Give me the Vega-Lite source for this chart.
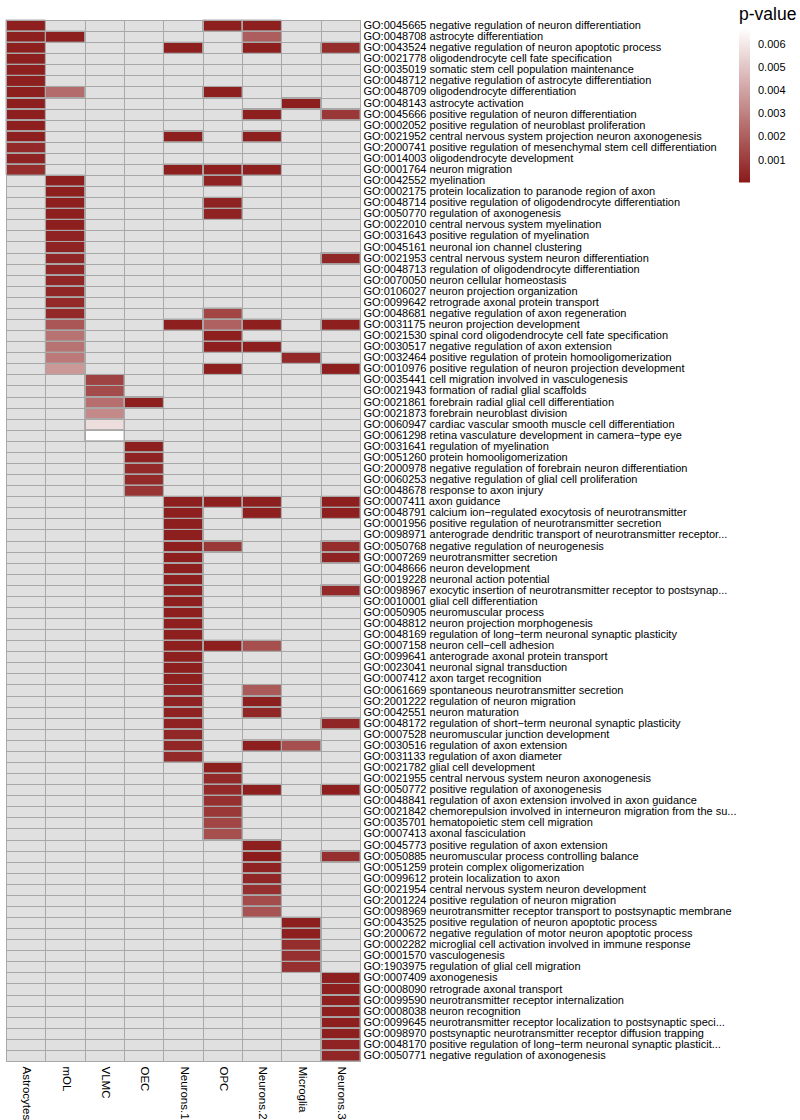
{
  "$schema": "https://vega.github.io/schema/vega-lite/v6.json",
  "width": 354,
  "height": 1041,
  "padding": {"left": 0, "top": 6, "right": 0, "bottom": 0},
  "config": {
    "font": "Liberation Sans",
    "view": {"stroke": "#a8a8a8", "fill": "#e0e0e0", "strokeWidth": 1}
  },
  "datasets": {
    "cells": [
      {"t": "GO:0045665 negative regulation of neuron differentiation", "c": "Astrocytes", "p": 0.0002},
      {"t": "GO:0045665 negative regulation of neuron differentiation", "c": "OPC", "p": 0.0002},
      {"t": "GO:0045665 negative regulation of neuron differentiation", "c": "Neurons.2", "p": 0.0002},
      {"t": "GO:0048708 astrocyte differentiation", "c": "Astrocytes", "p": 0.0002},
      {"t": "GO:0048708 astrocyte differentiation", "c": "mOL", "p": 0.0002},
      {"t": "GO:0048708 astrocyte differentiation", "c": "Neurons.2", "p": 0.002},
      {"t": "GO:0043524 negative regulation of neuron apoptotic process", "c": "Astrocytes", "p": 0.0002},
      {"t": "GO:0043524 negative regulation of neuron apoptotic process", "c": "Neurons.1", "p": 0.0002},
      {"t": "GO:0043524 negative regulation of neuron apoptotic process", "c": "Neurons.2", "p": 0.0002},
      {"t": "GO:0043524 negative regulation of neuron apoptotic process", "c": "Neurons.3", "p": 0.0006},
      {"t": "GO:0021778 oligodendrocyte cell fate specification", "c": "Astrocytes", "p": 0.0002},
      {"t": "GO:0035019 somatic stem cell population maintenance", "c": "Astrocytes", "p": 0.0002},
      {"t": "GO:0048712 negative regulation of astrocyte differentiation", "c": "Astrocytes", "p": 0.0002},
      {"t": "GO:0048709 oligodendrocyte differentiation", "c": "Astrocytes", "p": 0.0002},
      {"t": "GO:0048709 oligodendrocyte differentiation", "c": "mOL", "p": 0.0024},
      {"t": "GO:0048709 oligodendrocyte differentiation", "c": "OPC", "p": 0.0002},
      {"t": "GO:0048143 astrocyte activation", "c": "Astrocytes", "p": 0.0002},
      {"t": "GO:0048143 astrocyte activation", "c": "Microglia", "p": 0.0002},
      {"t": "GO:0045666 positive regulation of neuron differentiation", "c": "Astrocytes", "p": 0.0002},
      {"t": "GO:0045666 positive regulation of neuron differentiation", "c": "Neurons.2", "p": 0.0002},
      {"t": "GO:0045666 positive regulation of neuron differentiation", "c": "Neurons.3", "p": 0.0009},
      {"t": "GO:0002052 positive regulation of neuroblast proliferation", "c": "Astrocytes", "p": 0.0002},
      {"t": "GO:0021952 central nervous system projection neuron axonogenesis", "c": "Astrocytes", "p": 0.0002},
      {"t": "GO:0021952 central nervous system projection neuron axonogenesis", "c": "Neurons.1", "p": 0.0002},
      {"t": "GO:0021952 central nervous system projection neuron axonogenesis", "c": "Neurons.2", "p": 0.0002},
      {"t": "GO:2000741 positive regulation of mesenchymal stem cell differentiation", "c": "Astrocytes", "p": 0.0005},
      {"t": "GO:0014003 oligodendrocyte development", "c": "Astrocytes", "p": 0.0003},
      {"t": "GO:0001764 neuron migration", "c": "Astrocytes", "p": 0.0006},
      {"t": "GO:0001764 neuron migration", "c": "Neurons.1", "p": 0.0002},
      {"t": "GO:0001764 neuron migration", "c": "OPC", "p": 0.0002},
      {"t": "GO:0001764 neuron migration", "c": "Neurons.2", "p": 0.0002},
      {"t": "GO:0042552 myelination", "c": "mOL", "p": 0.0002},
      {"t": "GO:0042552 myelination", "c": "OPC", "p": 0.0003},
      {"t": "GO:0002175 protein localization to paranode region of axon", "c": "mOL", "p": 0.0002},
      {"t": "GO:0048714 positive regulation of oligodendrocyte differentiation", "c": "mOL", "p": 0.0002},
      {"t": "GO:0048714 positive regulation of oligodendrocyte differentiation", "c": "OPC", "p": 0.0003},
      {"t": "GO:0050770 regulation of axonogenesis", "c": "mOL", "p": 0.0002},
      {"t": "GO:0050770 regulation of axonogenesis", "c": "OPC", "p": 0.0003},
      {"t": "GO:0022010 central nervous system myelination", "c": "mOL", "p": 0.0002},
      {"t": "GO:0031643 positive regulation of myelination", "c": "mOL", "p": 0.0003},
      {"t": "GO:0045161 neuronal ion channel clustering", "c": "mOL", "p": 0.0003},
      {"t": "GO:0021953 central nervous system neuron differentiation", "c": "mOL", "p": 0.0004},
      {"t": "GO:0021953 central nervous system neuron differentiation", "c": "Neurons.3", "p": 0.0004},
      {"t": "GO:0048713 regulation of oligodendrocyte differentiation", "c": "mOL", "p": 0.0004},
      {"t": "GO:0070050 neuron cellular homeostasis", "c": "mOL", "p": 0.0004},
      {"t": "GO:0106027 neuron projection organization", "c": "mOL", "p": 0.0004},
      {"t": "GO:0099642 retrograde axonal protein transport", "c": "mOL", "p": 0.0005},
      {"t": "GO:0048681 negative regulation of axon regeneration", "c": "mOL", "p": 0.0005},
      {"t": "GO:0048681 negative regulation of axon regeneration", "c": "OPC", "p": 0.0013},
      {"t": "GO:0031175 neuron projection development", "c": "mOL", "p": 0.0018},
      {"t": "GO:0031175 neuron projection development", "c": "Neurons.1", "p": 0.0002},
      {"t": "GO:0031175 neuron projection development", "c": "OPC", "p": 0.0021},
      {"t": "GO:0031175 neuron projection development", "c": "Neurons.2", "p": 0.0002},
      {"t": "GO:0031175 neuron projection development", "c": "Neurons.3", "p": 0.0002},
      {"t": "GO:0021530 spinal cord oligodendrocyte cell fate specification", "c": "mOL", "p": 0.0026},
      {"t": "GO:0021530 spinal cord oligodendrocyte cell fate specification", "c": "OPC", "p": 0.0002},
      {"t": "GO:0030517 negative regulation of axon extension", "c": "mOL", "p": 0.0026},
      {"t": "GO:0030517 negative regulation of axon extension", "c": "OPC", "p": 0.0002},
      {"t": "GO:0030517 negative regulation of axon extension", "c": "Neurons.2", "p": 0.0002},
      {"t": "GO:0032464 positive regulation of protein homooligomerization", "c": "mOL", "p": 0.0028},
      {"t": "GO:0032464 positive regulation of protein homooligomerization", "c": "Microglia", "p": 0.0005},
      {"t": "GO:0010976 positive regulation of neuron projection development", "c": "mOL", "p": 0.0037},
      {"t": "GO:0010976 positive regulation of neuron projection development", "c": "OPC", "p": 0.0002},
      {"t": "GO:0010976 positive regulation of neuron projection development", "c": "Neurons.3", "p": 0.0002},
      {"t": "GO:0035441 cell migration involved in vasculogenesis", "c": "VLMC", "p": 0.0012},
      {"t": "GO:0021943 formation of radial glial scaffolds", "c": "VLMC", "p": 0.0015},
      {"t": "GO:0021861 forebrain radial glial cell differentiation", "c": "VLMC", "p": 0.0025},
      {"t": "GO:0021861 forebrain radial glial cell differentiation", "c": "OEC", "p": 0.0002},
      {"t": "GO:0021873 forebrain neuroblast division", "c": "VLMC", "p": 0.0033},
      {"t": "GO:0060947 cardiac vascular smooth muscle cell differentiation", "c": "VLMC", "p": 0.0057},
      {"t": "GO:0061298 retina vasculature development in camera−type eye", "c": "VLMC", "p": 0.0067},
      {"t": "GO:0031641 regulation of myelination", "c": "OEC", "p": 0.0002},
      {"t": "GO:0051260 protein homooligomerization", "c": "OEC", "p": 0.0003},
      {"t": "GO:2000978 negative regulation of forebrain neuron differentiation", "c": "OEC", "p": 0.0005},
      {"t": "GO:0060253 negative regulation of glial cell proliferation", "c": "OEC", "p": 0.0005},
      {"t": "GO:0048678 response to axon injury", "c": "OEC", "p": 0.0008},
      {"t": "GO:0007411 axon guidance", "c": "Neurons.1", "p": 0.0002},
      {"t": "GO:0007411 axon guidance", "c": "OPC", "p": 0.0002},
      {"t": "GO:0007411 axon guidance", "c": "Neurons.2", "p": 0.0002},
      {"t": "GO:0007411 axon guidance", "c": "Neurons.3", "p": 0.0002},
      {"t": "GO:0048791 calcium ion−regulated exocytosis of neurotransmitter", "c": "Neurons.1", "p": 0.0002},
      {"t": "GO:0048791 calcium ion−regulated exocytosis of neurotransmitter", "c": "Neurons.2", "p": 0.0002},
      {"t": "GO:0048791 calcium ion−regulated exocytosis of neurotransmitter", "c": "Neurons.3", "p": 0.0002},
      {"t": "GO:0001956 positive regulation of neurotransmitter secretion", "c": "Neurons.1", "p": 0.0002},
      {"t": "GO:0098971 anterograde dendritic transport of neurotransmitter receptor...", "c": "Neurons.1", "p": 0.0002},
      {"t": "GO:0050768 negative regulation of neurogenesis", "c": "Neurons.1", "p": 0.0002},
      {"t": "GO:0050768 negative regulation of neurogenesis", "c": "OPC", "p": 0.0009},
      {"t": "GO:0050768 negative regulation of neurogenesis", "c": "Neurons.3", "p": 0.0006},
      {"t": "GO:0007269 neurotransmitter secretion", "c": "Neurons.1", "p": 0.0002},
      {"t": "GO:0007269 neurotransmitter secretion", "c": "Neurons.3", "p": 0.0003},
      {"t": "GO:0048666 neuron development", "c": "Neurons.1", "p": 0.0002},
      {"t": "GO:0019228 neuronal action potential", "c": "Neurons.1", "p": 0.0002},
      {"t": "GO:0098967 exocytic insertion of neurotransmitter receptor to postsynap...", "c": "Neurons.1", "p": 0.0002},
      {"t": "GO:0098967 exocytic insertion of neurotransmitter receptor to postsynap...", "c": "Neurons.3", "p": 0.0005},
      {"t": "GO:0010001 glial cell differentiation", "c": "Neurons.1", "p": 0.0002},
      {"t": "GO:0050905 neuromuscular process", "c": "Neurons.1", "p": 0.0002},
      {"t": "GO:0048812 neuron projection morphogenesis", "c": "Neurons.1", "p": 0.0002},
      {"t": "GO:0048169 regulation of long−term neuronal synaptic plasticity", "c": "Neurons.1", "p": 0.0002},
      {"t": "GO:0007158 neuron cell−cell adhesion", "c": "Neurons.1", "p": 0.0002},
      {"t": "GO:0007158 neuron cell−cell adhesion", "c": "OPC", "p": 0.0002},
      {"t": "GO:0007158 neuron cell−cell adhesion", "c": "Neurons.2", "p": 0.0016},
      {"t": "GO:0099641 anterograde axonal protein transport", "c": "Neurons.1", "p": 0.0002},
      {"t": "GO:0023041 neuronal signal transduction", "c": "Neurons.1", "p": 0.0002},
      {"t": "GO:0007412 axon target recognition", "c": "Neurons.1", "p": 0.0002},
      {"t": "GO:0061669 spontaneous neurotransmitter secretion", "c": "Neurons.1", "p": 0.0003},
      {"t": "GO:0061669 spontaneous neurotransmitter secretion", "c": "Neurons.2", "p": 0.0019},
      {"t": "GO:2001222 regulation of neuron migration", "c": "Neurons.1", "p": 0.0003},
      {"t": "GO:2001222 regulation of neuron migration", "c": "Neurons.2", "p": 0.0002},
      {"t": "GO:0042551 neuron maturation", "c": "Neurons.1", "p": 0.0003},
      {"t": "GO:0042551 neuron maturation", "c": "Neurons.2", "p": 0.0004},
      {"t": "GO:0048172 regulation of short−term neuronal synaptic plasticity", "c": "Neurons.1", "p": 0.0003},
      {"t": "GO:0048172 regulation of short−term neuronal synaptic plasticity", "c": "Neurons.3", "p": 0.0004},
      {"t": "GO:0007528 neuromuscular junction development", "c": "Neurons.1", "p": 0.0004},
      {"t": "GO:0030516 regulation of axon extension", "c": "Neurons.1", "p": 0.0004},
      {"t": "GO:0030516 regulation of axon extension", "c": "Neurons.2", "p": 0.0002},
      {"t": "GO:0030516 regulation of axon extension", "c": "Microglia", "p": 0.0016},
      {"t": "GO:0031133 regulation of axon diameter", "c": "Neurons.1", "p": 0.0005},
      {"t": "GO:0021782 glial cell development", "c": "OPC", "p": 0.0002},
      {"t": "GO:0021955 central nervous system neuron axonogenesis", "c": "OPC", "p": 0.0005},
      {"t": "GO:0050772 positive regulation of axonogenesis", "c": "OPC", "p": 0.0005},
      {"t": "GO:0050772 positive regulation of axonogenesis", "c": "Neurons.2", "p": 0.0002},
      {"t": "GO:0050772 positive regulation of axonogenesis", "c": "Neurons.3", "p": 0.0002},
      {"t": "GO:0048841 regulation of axon extension involved in axon guidance", "c": "OPC", "p": 0.0007},
      {"t": "GO:0021842 chemorepulsion involved in interneuron migration from the su...", "c": "OPC", "p": 0.0009},
      {"t": "GO:0035701 hematopoietic stem cell migration", "c": "OPC", "p": 0.0013},
      {"t": "GO:0007413 axonal fasciculation", "c": "OPC", "p": 0.0016},
      {"t": "GO:0045773 positive regulation of axon extension", "c": "Neurons.2", "p": 0.0002},
      {"t": "GO:0050885 neuromuscular process controlling balance", "c": "Neurons.2", "p": 0.0001},
      {"t": "GO:0050885 neuromuscular process controlling balance", "c": "Neurons.3", "p": 0.0007},
      {"t": "GO:0051259 protein complex oligomerization", "c": "Neurons.2", "p": 0.0003},
      {"t": "GO:0099612 protein localization to axon", "c": "Neurons.2", "p": 0.0004},
      {"t": "GO:0021954 central nervous system neuron development", "c": "Neurons.2", "p": 0.0007},
      {"t": "GO:2001224 positive regulation of neuron migration", "c": "Neurons.2", "p": 0.0015},
      {"t": "GO:0098969 neurotransmitter receptor transport to postsynaptic membrane", "c": "Neurons.2", "p": 0.0017},
      {"t": "GO:0043525 positive regulation of neuron apoptotic process", "c": "Microglia", "p": 0.0002},
      {"t": "GO:2000672 negative regulation of motor neuron apoptotic process", "c": "Microglia", "p": 0.0002},
      {"t": "GO:0002282 microglial cell activation involved in immune response", "c": "Microglia", "p": 0.0006},
      {"t": "GO:0001570 vasculogenesis", "c": "Microglia", "p": 0.0007},
      {"t": "GO:1903975 regulation of glial cell migration", "c": "Microglia", "p": 0.0007},
      {"t": "GO:0007409 axonogenesis", "c": "Neurons.3", "p": 0.0002},
      {"t": "GO:0008090 retrograde axonal transport", "c": "Neurons.3", "p": 0.0002},
      {"t": "GO:0099590 neurotransmitter receptor internalization", "c": "Neurons.3", "p": 0.0002},
      {"t": "GO:0008038 neuron recognition", "c": "Neurons.3", "p": 0.0002},
      {"t": "GO:0099645 neurotransmitter receptor localization to postsynaptic speci...", "c": "Neurons.3", "p": 0.0002},
      {"t": "GO:0098970 postsynaptic neurotransmitter receptor diffusion trapping", "c": "Neurons.3", "p": 0.0002},
      {"t": "GO:0048170 positive regulation of long−term neuronal synaptic plasticit...", "c": "Neurons.3", "p": 0.0003},
      {"t": "GO:0050771 negative regulation of axonogenesis", "c": "Neurons.3", "p": 0.0004}
    ]
  },
  "data": {"name": "cells"},
  "mark": {"type": "rect", "stroke": "#a8a8a8", "strokeWidth": 1},
  "encoding": {
    "x": {
      "field": "c",
      "type": "nominal",
      "sort": ["Astrocytes", "mOL", "VLMC", "OEC", "Neurons.1", "OPC", "Neurons.2", "Microglia", "Neurons.3"],
      "scale": {"paddingInner": 0, "paddingOuter": 0},
      "axis": {
        "title": null,
        "orient": "bottom",
        "labelAngle": 90,
        "labelAlign": "left",
        "labelBaseline": "middle",
        "labelFontSize": 11.5,
        "labelColor": "#000000",
        "labelPadding": 5,
        "ticks": false,
        "domain": false,
        "grid": true,
        "tickBand": "extent",
        "gridColor": "#a8a8a8",
        "gridOpacity": 1,
        "gridWidth": 1
      }
    },
    "y": {
      "field": "t",
      "type": "nominal",
      "sort": null,
      "scale": {"paddingInner": 0, "paddingOuter": 0},
      "axis": {
        "title": null,
        "orient": "right",
        "labelAlign": "left",
        "labelBaseline": "middle",
        "labelFontSize": 11,
        "labelColor": "#000000",
        "labelPadding": 3,
        "labelLimit": 0,
        "labelOverlap": false,
        "ticks": false,
        "domain": false,
        "grid": true,
        "tickBand": "extent",
        "gridColor": "#a8a8a8",
        "gridOpacity": 1,
        "gridWidth": 1
      }
    },
    "color": {
      "field": "p",
      "type": "quantitative",
      "scale": {"domain": [0.00005, 0.0067], "range": ["#8B1A1A", "#FFFFFF"], "interpolate": "rgb", "clamp": true, "zero": false, "nice": false},
      "legend": {
        "orient": "none",
        "legendX": 733,
        "legendY": -14,
        "title": "p-value",
        "titleFontSize": 17.5,
        "titleFontWeight": "normal",
        "titleColor": "#000000",
        "titlePadding": 5,
        "labelFontSize": 11,
        "labelColor": "#000000",
        "labelOffset": 8,
        "gradientLength": 154,
        "gradientThickness": 11,
        "gradientStrokeWidth": 0,
        "values": [0.001, 0.002, 0.003, 0.004, 0.005, 0.006],
        "format": ".3f",
        "direction": "vertical",
        "padding": 0
      }
    }
  }
}
